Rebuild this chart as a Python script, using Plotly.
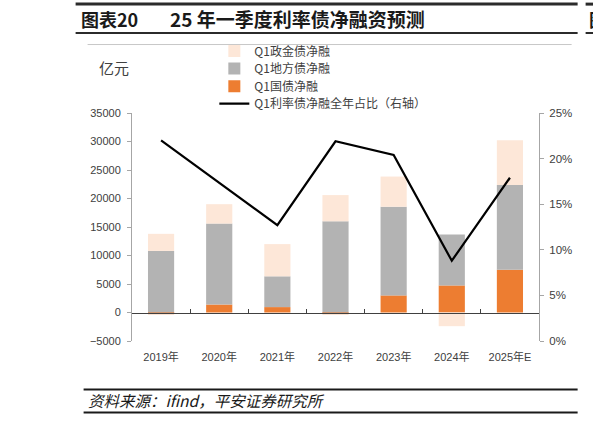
import plotly.graph_objects as go

# ---- data ----
years = ["2019年", "2020年", "2021年", "2022年", "2023年", "2024年", "2025年E"]
guozhai = [-300, 1400, 950, -300, 3000, 4750, 7500]          # Q1国债净融
difangzhai = [10800, 14200, 5400, 16000, 15550, 8930, 14850]  # Q1地方债净融
zhengjinzhai = [3000, 3400, 5650, 4600, 5300, -2400, 7850]    # Q1政金债净融
share = [0.220, 0.174, 0.127, 0.219, 0.204, 0.088, 0.179]     # Q1利率债净融全年占比

# ---- layout geometry (pixels) ----
FW, FH = 593, 421
L, R, T, B = 131.5, 539.3, 113.3, 340.7
W, H = R - L, B - T

def px(x):
    return (x - L) / W

def py(y):
    return (B - y) / H

LAT = "Liberation Sans, Arial, Noto Sans CJK SC"
CJK = "Noto Sans CJK SC, Liberation Sans"
TXT = "#404040"

fig = go.Figure()

fig.add_trace(go.Bar(x=years, y=guozhai, name="Q1国债净融",
                     marker=dict(color="#ED7D31", line=dict(width=0)),
                     legend="legend3"))
fig.add_trace(go.Bar(x=years, y=difangzhai, name="Q1地方债净融",
                     marker=dict(color="#B3B3B3", line=dict(width=0)),
                     legend="legend2"))
fig.add_trace(go.Bar(x=years, y=zhengjinzhai, name="Q1政金债净融",
                     marker=dict(color="#FDE7D8", line=dict(width=0)),
                     legend="legend"))
fig.add_trace(go.Scatter(x=years, y=share, name="Q1利率债净融全年占比（右轴）",
                         mode="lines", line=dict(color="#000000", width=2.2),
                         xaxis="x2", yaxis="y2", legend="legend4"))

def leg(row_y):
    return dict(x=px(214), y=py(row_y), xanchor="left", yanchor="middle",
                bgcolor="rgba(0,0,0,0)", borderwidth=0,
                font=dict(family=CJK, size=12, color=TXT),
                itemwidth=30, tracegroupgap=0)

fig.update_layout(
    width=FW, height=FH,
    margin=dict(l=L, r=FW - R, t=T, b=FH - B, pad=0),
    paper_bgcolor="white", plot_bgcolor="white",
    barmode="relative", bargap=0.55,
    font=dict(family=LAT, size=11, color=TXT),
    xaxis=dict(type="category", showline=False, ticks="", showgrid=False,
               zeroline=False, tickfont=dict(family=LAT, size=11, color=TXT),
               ticklabelstandoff=8, range=[-0.5, 6.5]),
    xaxis2=dict(type="category", overlaying="x", anchor="free", position=0.125,
                side="bottom", showline=True, linecolor="#404040", linewidth=1,
                ticks="inside", ticklen=4, tickcolor="#404040", tickson="boundaries",
                showticklabels=False, showgrid=False, zeroline=False,
                range=[-0.5, 6.5]),
    yaxis=dict(range=[-5000, 35000], dtick=5000, tickformat="d",
               showline=True, linecolor="#A6A6A6", linewidth=1,
               ticks="outside", ticklen=4, tickcolor="#A6A6A6",
               showgrid=False, zeroline=False, ticklabelstandoff=4,
               tickfont=dict(family=LAT, size=11, color=TXT)),
    yaxis2=dict(range=[0, 0.25], dtick=0.05, tickformat=".0%", overlaying="y",
                side="right", anchor="x2",
                showline=True, linecolor="#A6A6A6", linewidth=1,
                ticks="outside", ticklen=4, tickcolor="#A6A6A6",
                showgrid=False, zeroline=False, ticklabelstandoff=3,
                tickfont=dict(family=LAT, size=11.5, color=TXT)),
    legend=leg(51.5),
    legend2=leg(69),
    legend3=leg(86.5),
    legend4=leg(104),
    showlegend=True,
)

shapes = []
def hline(x0, x1, y, color, width):
    shapes.append(dict(type="line", xref="paper", yref="paper",
                       x0=px(x0), x1=px(x1), y0=py(y), y1=py(y),
                       line=dict(color=color, width=width)))

hline(75, 578, 4.7, "#2b2b2b", 3)
hline(586, 600, 4.7, "#2b2b2b", 3)
hline(75, 578, 33.5, "#2b2b2b", 2)
hline(586, 600, 33.5, "#2b2b2b", 2)
hline(87, 572, 45, "#C8C8C8", 1)
hline(83, 578, 389, "#1a1a1a", 2)
hline(83, 578, 412, "#1a1a1a", 2)
fig.update_layout(shapes=shapes)

def note(text, x, y, size, bold=False, italic=False, color="#1a1a1a", anchor="left"):
    fig.add_annotation(text=("<b>%s</b>" % text) if bold else text,
                       xref="paper", yref="paper", x=px(x), y=py(y),
                       xanchor=anchor, yanchor="middle", showarrow=False,
                       font=dict(family=CJK, size=size, color=color,
                                 style="italic" if italic else "normal"))

note("图表20", 78, 19.5, 18, bold=True)
note("25 年一季度利率债净融资预测", 168, 19.5, 19, bold=True)
note("图", 587, 19.5, 18, bold=True)
note("亿元", 96, 68, 15, color=TXT)
note("资料来源：ifind，平安证券研究所", 85, 400, 15.5, italic=True)

fig.write_html("out.html")
